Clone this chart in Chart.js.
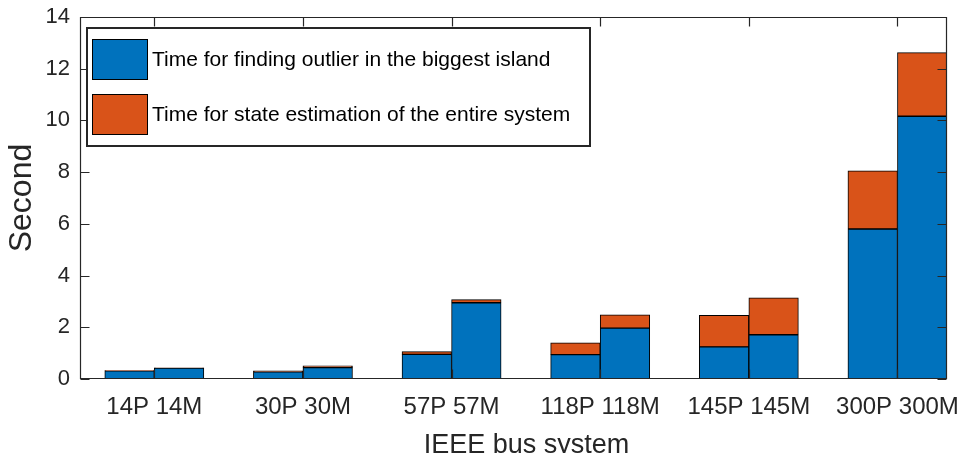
<!DOCTYPE html>
<html>
<head>
<meta charset="utf-8">
<script src="https://cdn.jsdelivr.net/npm/chart.js@4/dist/chart.umd.min.js"></script>
<style>
  html, body { margin: 0; padding: 0; background: #fff; overflow: hidden; }
  #c { display: block; }
</style>
</head>
<body>
<canvas id="c" width="961" height="453"></canvas>
<script>
// IEEE test systems, two runs (P and M) per system
const groups = ['14P 14M', '30P 30M', '57P 57M', '118P 118M', '145P 145M', '300P 300M'];
const barNames = ['14P', '14M', '30P', '30M', '57P', '57M', '118P', '118M', '145P', '145M', '300P', '300M'];

// seconds spent finding outliers in the biggest island (lower segment)
const outlierTime = [0.32, 0.42, 0.28, 0.44, 0.95, 2.95, 0.94, 1.97, 1.24, 1.71, 5.80, 10.16];
// extra seconds for state estimation of the entire system (upper segment)
const estimationTime = [0.01, 0.01, 0.04, 0.07, 0.11, 0.12, 0.46, 0.51, 1.22, 1.43, 2.25, 2.46];

const seriesNames = [
  'Time for finding outlier in the biggest island',
  'Time for state estimation of the entire system'
];
const yTickValues = [0, 2, 4, 6, 8, 10, 12, 14];
const xAxisTitle = 'IEEE bus system';
const yAxisTitle = 'Second';

const INK = '#262626';
const FONT = '"Liberation Sans", Arial, Helvetica, sans-serif';

// each system gets two adjacent slots followed by an empty one
const slotOf = i => 3 * Math.floor(i / 2) + 1 + (i % 2);
const groupCenter = g => 3 * g + 1.5;

const toPoints = vals => vals.map((v, i) => ({ x: slotOf(i), y: v }));

const noOverflow = s => {
  s.paddingLeft = 0; s.paddingRight = 0; s.paddingTop = 0; s.paddingBottom = 0;
};

const frame = {
  id: 'frame',
  afterDatasetsDraw(chart) {
    const { ctx, chartArea: a, scales: { x, y } } = chart;
    const L = Math.round(a.left) + 0.5, R = Math.round(a.right) - 0.5;
    const T = Math.round(a.top) + 0.5, B = Math.round(a.bottom) - 0.5;
    const tl = 9;
    ctx.save();
    ctx.strokeStyle = INK;
    ctx.lineWidth = 1.2;
    ctx.beginPath();
    ctx.moveTo(L, T); ctx.lineTo(R, T); ctx.lineTo(R, B); ctx.lineTo(L, B); ctx.closePath();
    yTickValues.forEach(v => {
      const py = Math.round(y.getPixelForValue(v)) + 0.5;
      ctx.moveTo(L, py); ctx.lineTo(L + tl, py);
      ctx.moveTo(R, py); ctx.lineTo(R - tl, py);
    });
    groups.forEach((_, g) => {
      const px = Math.round(x.getPixelForValue(groupCenter(g))) + 0.5;
      ctx.moveTo(px, B); ctx.lineTo(px, B - tl);
      ctx.moveTo(px, T); ctx.lineTo(px, T + tl);
    });
    ctx.stroke();
    ctx.restore();
  },
  afterDraw(chart) {
    const { ctx, chartArea: a } = chart;

    // x-axis label, set slightly right of the axes centre and clipped by the canvas edge
    ctx.save();
    ctx.fillStyle = INK;
    ctx.font = '27px ' + FONT;
    ctx.textAlign = 'center';
    ctx.textBaseline = 'alphabetic';
    ctx.fillText(xAxisTitle, (a.left + a.right) / 2 + 13, chart.height);
    ctx.restore();

    // legend box in the upper-left corner of the axes
    const bx = a.left + 7, by = a.top + 11, bw = 503, bh = 118;
    ctx.save();
    ctx.fillStyle = '#fff';
    ctx.fillRect(bx, by, bw, bh);
    ctx.strokeStyle = INK;
    ctx.lineWidth = 2;
    ctx.strokeRect(bx, by, bw, bh);
    chart.data.datasets.forEach((ds, i) => {
      const sy = by + 11 + i * 55;
      ctx.fillStyle = ds.backgroundColor;
      ctx.fillRect(bx + 5.5, sy, 55, 40);
      ctx.strokeStyle = '#000';
      ctx.lineWidth = 1;
      ctx.strokeRect(bx + 5.5, sy + 0.5, 55, 40);
      ctx.fillStyle = '#000';
      ctx.font = '21px ' + FONT;
      ctx.textBaseline = 'middle';
      ctx.textAlign = 'left';
      ctx.fillText(ds.label, bx + 65, sy + 21);
    });
    ctx.restore();
  }
};

new Chart(document.getElementById('c'), {
  type: 'bar',
  data: {
    datasets: [
      {
        label: seriesNames[0],
        data: toPoints(outlierTime),
        backgroundColor: '#0072BD',
        borderColor: '#000',
        borderWidth: 1,
        borderSkipped: false,
        barPercentage: 1,
        categoryPercentage: 1
      },
      {
        label: seriesNames[1],
        data: toPoints(estimationTime),
        backgroundColor: '#D95319',
        borderColor: '#000',
        borderWidth: 1,
        borderSkipped: false,
        barPercentage: 1,
        categoryPercentage: 1
      }
    ]
  },
  options: {
    responsive: false,
    animation: false,
    layout: { padding: { left: 0, right: 14, top: 17, bottom: 0 } },
    plugins: { legend: { display: false }, tooltip: { enabled: false } },
    scales: {
      x: {
        type: 'linear',
        min: 0,
        max: 17.5,
        stacked: true,
        offset: false,
        grid: { display: false, drawTicks: false, offset: false },
        border: { display: false },
        afterBuildTicks: s => { s.ticks = groups.map((_, g) => ({ value: groupCenter(g) })); },
        afterFit: s => { s.height = 74; noOverflow(s); },
        ticks: {
          autoSkip: false,
          maxRotation: 0,
          minRotation: 0,
          padding: 14,
          color: INK,
          font: { family: FONT, size: 24 },
          callback: (v, i) => groups[i]
        },
        title: { display: false }
      },
      y: {
        min: 0,
        max: 14,
        stacked: true,
        grid: { display: false, drawTicks: false },
        border: { display: false },
        afterBuildTicks: s => { s.ticks = yTickValues.map(v => ({ value: v })); },
        afterFit: s => { s.width = 80; noOverflow(s); },
        ticks: {
          padding: 10,
          color: INK,
          font: { family: FONT, size: 22 }
        },
        title: {
          display: true,
          text: yAxisTitle,
          color: INK,
          font: { family: FONT, size: 32 },
          padding: { top: 3, bottom: 0 }
        }
      }
    }
  },
  plugins: [frame]
});
</script>
</body>
</html>
